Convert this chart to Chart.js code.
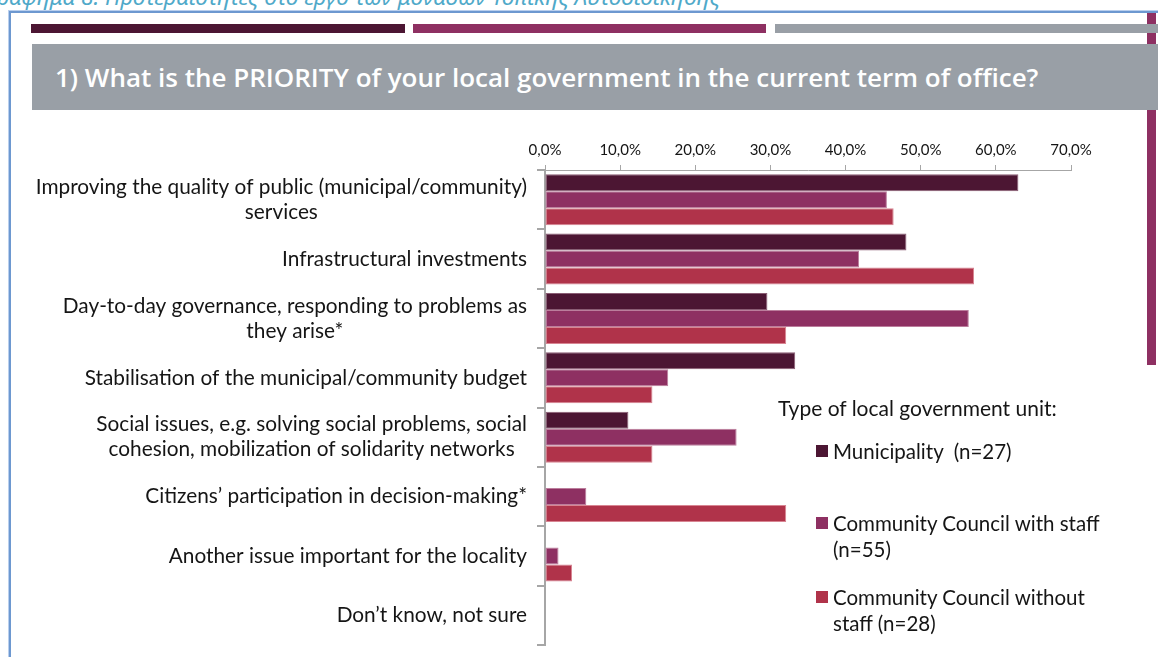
<!DOCTYPE html>
<html>
<head>
<meta charset="utf-8">
<script src="https://cdn.jsdelivr.net/npm/chart.js@4.4.1/dist/chart.umd.min.js"></script>
<style>
  html, body { margin: 0; padding: 0; background: #fff; }
  body { width: 1158px; height: 657px; position: relative; overflow: hidden; font-family: Lato, "Open Sans", sans-serif; color: #151515; }
  #caption { position: absolute; right: 438px; top: -14px; white-space: nowrap; font-family: "Noto Sans", "Open Sans", sans-serif; font-style: italic; font-size: 22.5px; line-height: 22.5px; color: #4fa9c9; }
  #frame { position: absolute; left: 9px; top: 11px; width: 1200px; height: 700px; border-left: 2px solid #6d98d0; border-top: 2px solid #6d98d0; box-shadow: -1px -1px 0 #b9cfee; }
  #sidebar { position: absolute; left: 1147px; top: 13px; width: 9px; height: 352px; background: #8e3062; }
  .strip { position: absolute; top: 24px; height: 9px; }
  #s1 { left: 31px; width: 374px; background: #4c1633; }
  #s2 { left: 413px; width: 353px; background: #8e3062; }
  #s3 { left: 775px; width: 400px; background: #999fa6; }
  #titlebar { position: absolute; left: 32px; top: 44px; width: 1140px; height: 66px; background: #999fa6; }
  #titlebar span { position: absolute; left: 23px; top: 17px; font-family: "Open Sans", sans-serif; font-weight: 600; font-size: 26px; line-height: 32px; color: #fff; white-space: nowrap; }
  #wrap { position: absolute; left: 0; top: 120px; width: 1140px; height: 537px; }
  #legendTitle { position: absolute; left: 778px; top: 395px; font-size: 21px; line-height: 26px; white-space: nowrap; }
  .item { position: absolute; left: 816px; font-size: 20.5px; line-height: 26px; white-space: pre; }
  .item i { position: absolute; left: 0; top: 7px; width: 12px; height: 12px; }
  .item div { margin-left: 17px; }
</style>
</head>
<body>
<div id="caption">Γράφημα 8: Προτεραιότητες στο έργο των μονάδων Τοπικής Αυτοδιοίκησης</div>
<div id="frame"></div>
<div id="sidebar"></div>
<div class="strip" id="s1"></div>
<div class="strip" id="s2"></div>
<div class="strip" id="s3"></div>
<div id="titlebar"><span>1) What is the PRIORITY of your local government in the current term of office?</span></div>
<div id="wrap"><canvas id="chart"></canvas></div>
<div id="legendTitle">Type of local government unit:</div>
<div id="legend"></div>

<script>
// answers (each entry = lines of the axis label)
var categories = [
  ['Improving the quality of public (municipal/community)', 'services'],
  ['Infrastructural investments'],
  ['Day-to-day governance, responding to problems as', 'they arise*'],
  ['Stabilisation of the municipal/community budget'],
  ['Social issues, e.g. solving social problems, social', 'cohesion, mobilization of solidarity networks'],
  ['Citizens\u2019 participation in decision-making*'],
  ['Another issue important for the locality'],
  ['Don\u2019t know, not sure']
];

// % of units per type
var municipality = [63.0, 48.1, 29.6, 33.3, 11.1, 0, 0, 0];
var councilWithStaff = [45.5, 41.8, 56.4, 16.4, 25.5, 5.5, 1.8, 0];
var councilWithoutStaff = [46.4, 57.1, 32.1, 14.3, 14.3, 32.1, 3.6, 0];

var seriesNames = [
  ['Municipality  (n=27)'],
  ['Community Council with staff', '(n=55)'],
  ['Community Council without', 'staff (n=28)']
];

var xTicks = [0, 10, 20, 30, 40, 50, 60, 70];

var colors = ['#4c1633', '#8e3062', '#b0334a'];
var edges = ['#8a5d74', '#bb7d9c', '#d88592'];
var legendTops = [438, 510, 584];

// multi-line labels: block right-aligned to the axis, lines centred inside the block
var categoryLabels = {
  id: 'categoryLabels',
  afterDraw: function(chart) {
    var ctx = chart.ctx, y = chart.scales.y;
    ctx.save();
    ctx.font = '20.8px Lato';
    ctx.fillStyle = '#151515';
    ctx.textAlign = 'center';
    ctx.textBaseline = 'middle';
    categories.forEach(function(lines, i) {
      var yc = y.getPixelForValue(i);
      var w = Math.max.apply(null, lines.map(function(l) { return ctx.measureText(l).width; }));
      var cx = y.right - 18 - w / 2;
      lines.forEach(function(l, j) {
        ctx.fillText(l, cx, yc + (j - (lines.length - 1) / 2) * 25);
      });
    });
    ctx.restore();
  }
};

var data = [municipality, councilWithStaff, councilWithoutStaff];

new Chart(document.getElementById('chart'), {
  type: 'bar',
  data: {
    labels: categories.map(function(c) { return c.join(' '); }),
    datasets: data.map(function(d, i) {
      return {
        label: seriesNames[i].join(' '),
        data: d,
        backgroundColor: colors[i],
        borderColor: edges[i],
        borderWidth: 1,
        borderSkipped: false,
        categoryPercentage: 0.86,
        barPercentage: 1
      };
    })
  },
  options: {
    indexAxis: 'y',
    responsive: true,
    maintainAspectRatio: false,
    animation: false,
    layout: { padding: { left: 0, right: 69, top: 0, bottom: 12 } },
    plugins: { legend: { display: false }, tooltip: { enabled: false } },
    scales: {
      x: {
        position: 'top',
        min: 0,
        max: 70,
        afterBuildTicks: function(scale) { scale.ticks = xTicks.map(function(v) { return { value: v }; }); },
        afterFit: function(scale) { scale.height = 50; },
        grid: { drawOnChartArea: false, drawTicks: true, tickLength: 5, color: '#a6a6a6' },
        border: { display: true, color: '#a6a6a6', width: 1 },
        ticks: {
          padding: 6,
          color: '#151515',
          font: { family: 'Lato', size: 15 },
          callback: function(v) { return v.toFixed(1).replace('.', ',') + '%'; }
        }
      },
      y: {
        afterFit: function(scale) { scale.width = 545; },
        grid: { drawOnChartArea: false, drawTicks: true, tickLength: 8, offset: true, color: '#a6a6a6', lineWidth: 2 },
        border: { display: true, color: '#a6a6a6', width: 2 },
        ticks: { display: false }
      }
    }
  },
  plugins: [categoryLabels]
});

// legend block on the right
var legend = document.getElementById('legend');
seriesNames.forEach(function(lines, i) {
  var item = document.createElement('div');
  item.className = 'item';
  item.style.top = legendTops[i] + 'px';
  var box = document.createElement('i');
  box.style.background = colors[i];
  item.appendChild(box);
  var txt = document.createElement('div');
  txt.textContent = lines.join('\n');
  item.appendChild(txt);
  legend.appendChild(item);
});
</script>
</body>
</html>
